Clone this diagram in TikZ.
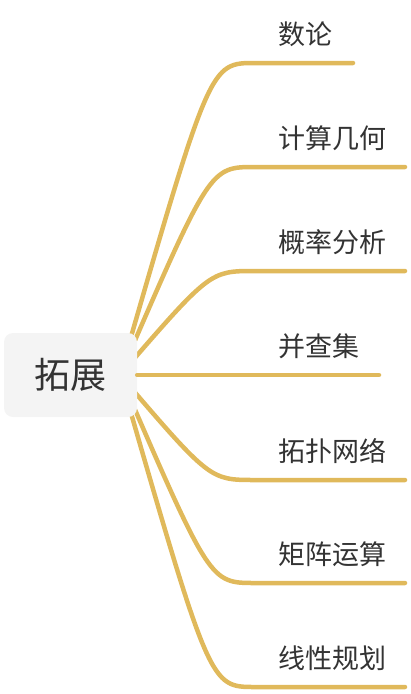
\documentclass[tikz,border=0pt]{standalone}
\usepackage{fontspec}
\newfontfamily\cjk{Noto Sans CJK SC}
\usetikzlibrary{positioning,backgrounds}
\definecolor{branchcol}{HTML}{E0B95B}
\definecolor{rootbg}{HTML}{F4F4F4}
\definecolor{txtcol}{HTML}{333333}

\begin{document}
\begin{tikzpicture}[x=1pt,y=1pt,
   branch/.style={draw=branchcol,line width=4.5pt,line cap=round},
   topic/.style={text=txtcol,font=\cjk\fontsize{27}{27}\selectfont,anchor=base west,inner sep=0pt},
   rootbox/.style={fill=rootbg,rounded corners=9pt,minimum width=133pt,minimum height=84pt,
     text=txtcol,font=\cjk\fontsize{36}{36}\selectfont}]
   \useasboundingbox (0,0) rectangle (410,-694);
   \node[rootbox] (root) at (70.5,-375) {拓展};
   \coordinate (hub) at (120,-375);
   \begin{scope}[on background layer]
   \foreach \t/\y/\len [count=\i] in {数论/63/98,计算几何/167/150,概率分析/271/150,
      拓扑网络/480/150,矩阵运算/583/150,线性规划/687/150} {
    \coordinate (b\i) at (255,-\y);
    \draw[branch] (hub) .. controls (210,-\y) .. (b\i) -- ++(\len,0);
    \node[topic] (t\i) at (278,-\y+19) {\t};
   }
   \end{scope}
   \coordinate (b0) at (root.east |- hub);
   \draw[branch] (b0) -- (379,-375);
   \node[topic] (t0) at (278,-356) {并查集};
  \end{tikzpicture}
\end{document}
